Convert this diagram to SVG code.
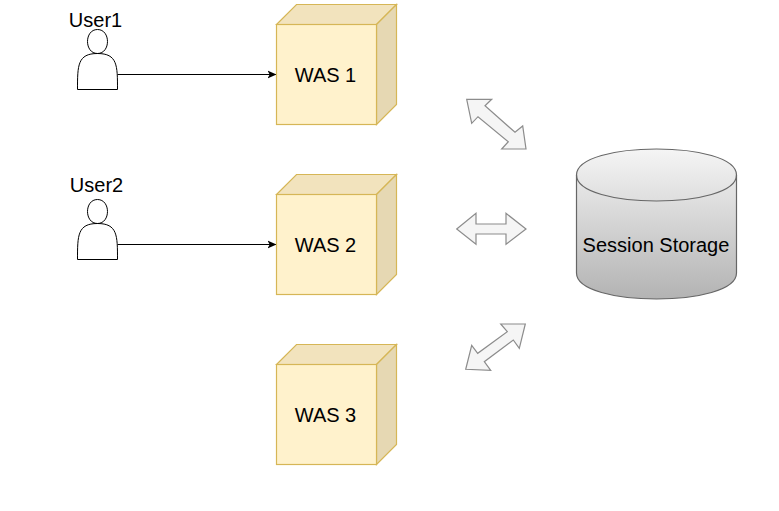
<svg xmlns="http://www.w3.org/2000/svg" width="779" height="511" viewBox="0 0 779 511">
<style>
text{font-family:"Liberation Sans",Arial,sans-serif;font-size:20px;fill:#000;text-anchor:middle}
.front{fill:#fff2cc;stroke:#d6b656;stroke-width:1.2}
.top{fill:#f2e3bd;stroke:#d6b656;stroke-width:1.2}
.side{fill:#e6d8b3;stroke:#d6b656;stroke-width:1.2}
.actor{fill:#fff;stroke:#000;stroke-width:1}
.link{fill:none;stroke:#000;stroke-width:1;marker-end:url(#tip)}
.both{fill:#f5f5f5;stroke:#8c8c8c;stroke-width:1.2;stroke-linejoin:miter}
</style>
<defs>
<marker id="tip" markerUnits="userSpaceOnUse" markerWidth="10" markerHeight="9" refX="9" refY="4.500" orient="auto"><path d="M0,0.500L9,4.500L0,8.500L2.200,4.500Z" fill="#000"/></marker>
<linearGradient id="cyl" x1="0" y1="0" x2="0" y2="1"><stop offset="0" stop-color="#f5f5f5"/><stop offset="1" stop-color="#b3b3b3"/></linearGradient>
<g id="cube">
<path class="top" d="M0,20L20,0H120L100,20Z"/>
<path class="side" d="M100,20L120,0V100L100,120Z"/>
<rect class="front" x="0" y="20" width="100" height="100"/>
</g>
<path id="person" class="actor" d="M0,60C0,36 0,24 20,24C6.670,24 6.670,0 20,0C33.330,0 33.330,24 20,24C40,24 40,36 40,60Z"/>
</defs>
<g id="connectors">
<path class="link" d="M117.500,74.500H276.500"/>
<path class="link" d="M117.500,244.500H276.500"/>
<path class="both" d="M466.700,99.300L491.700,99.300L485,105.700L515,132.300L522.700,126L526,149L501.700,149L508.300,141.700L478,116.700L471.700,123.300Z"/>
<path class="both" d="M456.700,229L476,213.300V224H506V213.300L526,229L506,244.300V234H476V244.300Z"/>
<path class="both" d="M525.300,324L500.700,324L507.300,331.700L477.700,353.300L471.700,345.300L465.700,369.300L490.700,370.300L484.300,361.700L513.300,340L519.300,348.300Z"/>
</g>
<g id="user1"><use href="#person" x="77.500" y="29.500"/><text x="95.500" y="27">User1</text></g>
<g id="user2"><use href="#person" x="77.500" y="199.500"/><text x="96.500" y="192">User2</text></g>
<g id="was1"><use href="#cube" x="276.500" y="4.500"/><text x="325.500" y="81.500">WAS 1</text></g>
<g id="was2"><use href="#cube" x="276.500" y="174.500"/><text x="325.500" y="251.500">WAS 2</text></g>
<g id="was3"><use href="#cube" x="276.500" y="344.500"/><text x="325.500" y="421.500">WAS 3</text></g>
<g id="storage">
<path d="M576.500,175C576.500,140.330 736.500,140.330 736.500,175V273C736.500,307.670 576.500,307.670 576.500,273Z" fill="url(#cyl)" stroke="#666" stroke-width="1.2"/>
<path d="M576.500,175C576.500,209.670 736.500,209.670 736.500,175" fill="none" stroke="#666" stroke-width="1.2"/>
<text x="656" y="252">Session Storage</text>
</g>
</svg>
